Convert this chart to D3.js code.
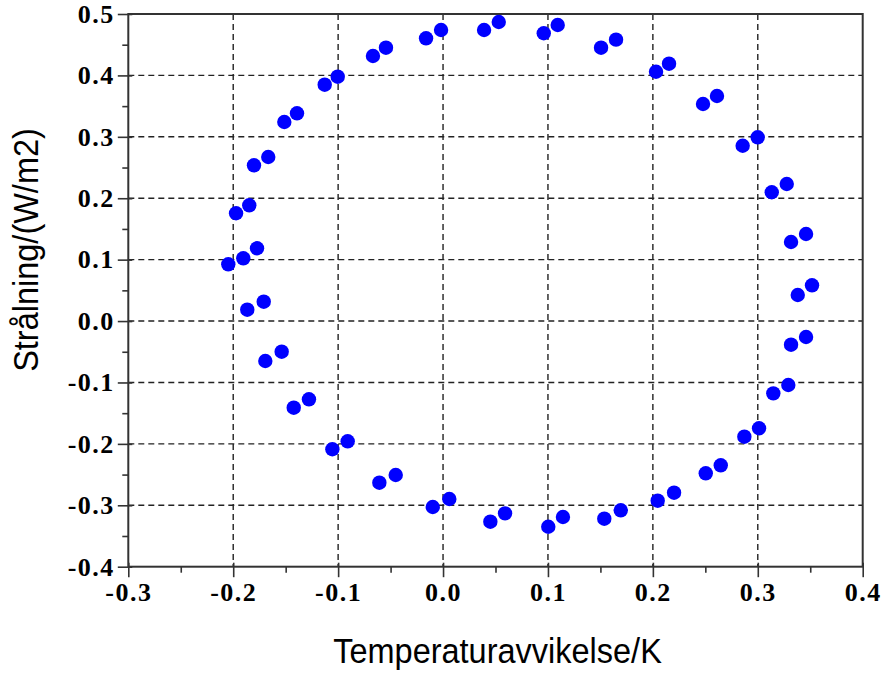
<!DOCTYPE html>
<html>
<head>
<meta charset="utf-8">
<script src="https://cdn.jsdelivr.net/npm/d3@7"></script>
<style>
  body { margin: 0; background: #fff; }
  svg { display: block; }
</style>
</head>
<body>
<div id="chart"></div>
<script>
// Data
const temperature = [
  -0.2047, -0.1904, -0.1773, -0.1973, -0.1847, -0.1802, -0.1666, -0.1513, -0.1392, -0.1128,
  -0.1004, -0.0668, -0.0544, -0.0162, -0.0019, 0.0391, 0.0531, 0.0960, 0.1093, 0.1506,
  0.1649, 0.2030, 0.2154, 0.2478, 0.2611, 0.2856, 0.2999, 0.3133, 0.3276, 0.3317,
  0.3460, 0.3381, 0.3517, 0.3317, 0.3460, 0.3148, 0.3291, 0.2872, 0.3012, 0.2504,
  0.2647, 0.2046, 0.2202, 0.1537, 0.1694, 0.1003, 0.1143, 0.0451, 0.0591, -0.0098,
  0.0060, -0.0607, -0.0451, -0.1055, -0.0909, -0.1423, -0.1278, -0.1694, -0.1538, -0.1866,
  -0.1709
];
const radiation = [
  0.0924, 0.1022, 0.1185, 0.1755, 0.1885, 0.2536, 0.2671, 0.3241, 0.3383, 0.3849,
  0.3979, 0.4316, 0.4451, 0.4604, 0.4739, 0.4739, 0.4870, 0.4686, 0.4821, 0.4451,
  0.4582, 0.4060, 0.4191, 0.3534, 0.3665, 0.2855, 0.2992, 0.2097, 0.2232, 0.1287,
  0.1418, 0.0424, 0.0582, -0.0385, -0.0260, -0.1177, -0.1041, -0.1883, -0.1746, -0.2479,
  -0.2349, -0.2925, -0.2795, -0.3218, -0.3082, -0.3349, -0.3191, -0.3267, -0.3131, -0.3028,
  -0.2898, -0.2632, -0.2507, -0.2088, -0.1958, -0.1411, -0.1274, -0.0650, -0.0499, 0.0185,
  0.0315
];
const xTicks = [-0.3, -0.2, -0.1, 0.0, 0.1, 0.2, 0.3, 0.4];
const yTicks = [-0.4, -0.3, -0.2, -0.1, 0.0, 0.1, 0.2, 0.3, 0.4, 0.5];
const xLabel = 'Temperaturavvikelse/K';
const yLabel = 'Strålning/(W/m2)';

const width = 885, height = 673;
const plotLeft = 128.3, plotRight = 862.7, plotTop = 14, plotBottom = 566.7;

const svg = d3.select('#chart').append('svg')
  .attr('width', width)
  .attr('height', height);

const x = d3.scaleLinear().domain([-0.3, 0.4]).range([plotLeft, plotRight]);
const y = d3.scaleLinear().domain([-0.4, 0.5]).range([plotBottom, plotTop]);

const fmt = d => d3.format('.1f')(d).replace('\u2212', '-');
const minorX = d3.range(-0.25, 0.4, 0.1);
const minorY = d3.range(-0.35, 0.5, 0.1);

// Dashed grid lines
const grid = svg.append('g')
  .attr('stroke', '#222')
  .attr('stroke-width', 1.4)
  .attr('stroke-dasharray', '6,4');
grid.selectAll('.vg')
  .data(xTicks.slice(1, -1))
  .enter().append('line')
  .attr('x1', d => x(d)).attr('x2', d => x(d))
  .attr('y1', plotTop).attr('y2', plotBottom);
grid.selectAll('.hg')
  .data(yTicks.slice(1, -1))
  .enter().append('line')
  .attr('x1', plotLeft).attr('x2', plotRight)
  .attr('y1', d => y(d)).attr('y2', d => y(d));

// Frame
svg.append('rect')
  .attr('x', plotLeft).attr('y', plotTop)
  .attr('width', plotRight - plotLeft).attr('height', plotBottom - plotTop)
  .attr('fill', 'none')
  .attr('stroke', '#333')
  .attr('stroke-width', 2);

// Axes (major ticks cross the frame a little, minor ticks only outside)
const xMajor = svg.append('g')
  .attr('transform', `translate(0,${plotBottom})`)
  .call(d3.axisBottom(x).tickValues(xTicks).tickSize(10.5).tickPadding(5).tickFormat(fmt));
xMajor.selectAll('.tick line').attr('y1', -4);
svg.append('g')
  .attr('transform', `translate(0,${plotBottom})`)
  .call(d3.axisBottom(x).tickValues(minorX).tickSize(6).tickFormat(''));
const yMajor = svg.append('g')
  .attr('transform', `translate(${plotLeft},0)`)
  .call(d3.axisLeft(y).tickValues(yTicks).tickSize(10.5).tickPadding(3).tickFormat(fmt));
yMajor.selectAll('.tick line').attr('x1', 4);
svg.append('g')
  .attr('transform', `translate(${plotLeft},0)`)
  .call(d3.axisLeft(y).tickValues(minorY).tickSize(6).tickFormat(''));

svg.selectAll('.domain').remove();
svg.selectAll('.tick line').attr('stroke', '#333').attr('stroke-width', 1.6);
svg.selectAll('.tick text')
  .attr('fill', '#000')
  .style('font-family', '"Liberation Serif", "Times New Roman", serif')
  .style('font-weight', 'bold')
  .style('font-size', '26px')
  .style('letter-spacing', '1.5px');

// Points
svg.append('g')
  .selectAll('circle')
  .data(temperature.map((t, i) => [t, radiation[i]]))
  .enter().append('circle')
  .attr('cx', d => x(d[0]))
  .attr('cy', d => y(d[1]))
  .attr('r', 7.2)
  .attr('fill', '#0000ff');

// Axis titles
svg.append('text')
  .attr('transform', `translate(${(plotLeft + plotRight) / 2 + 2},663) scale(1,1.08)`)
  .attr('text-anchor', 'middle')
  .style('font-family', '"Liberation Sans", Arial, sans-serif')
  .style('font-size', '32.5px')
  .text(xLabel);
svg.append('text')
  .attr('transform', `translate(38,250) rotate(-90) scale(1,1.08)`)
  .attr('text-anchor', 'middle')
  .style('font-family', '"Liberation Sans", Arial, sans-serif')
  .style('font-size', '32.5px')
  .text(yLabel);
</script>
</body>
</html>
